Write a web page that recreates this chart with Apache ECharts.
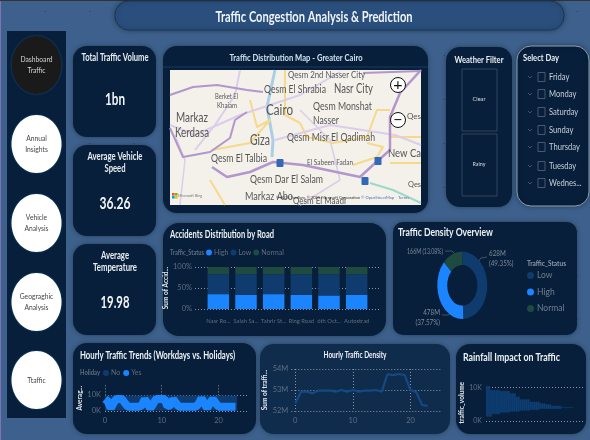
<!DOCTYPE html>
<html>
<head>
<meta charset="utf-8">
<style>
  html, body { margin: 0; padding: 0; background: #3d618c; }
  #main { width: 590px; height: 440px; }
</style>
<script src="https://cdn.jsdelivr.net/npm/echarts@6/dist/echarts.min.js"></script>
</head>
<body>
<div id="main"></div>
<script>
// accidents by road, stacked to 100%
const roads = ['Nasr Ro...', 'Salah Sa...', 'Tahrir St...', 'Ring Road', '6th Oct...', 'Autostrad'];
const accHigh = [35.4, 33.9, 35.4, 33.9, 32.3, 33.9];
const accLow = [47.3, 48.9, 47.3, 48.6, 50.4, 48.6];
const accNormal = [17.3, 17.2, 17.3, 17.5, 17.3, 17.5];

// density donut
const densityNames = ['Low', 'High', 'Normal'];
const densityPct = [49.35, 37.57, 13.08];

// hourly trends, half hour steps
const trendNoHours = [0, 23.3];
const trendNo = [5, 5];
const trendYesHours = [0, 0.5, 1, 1.5, 2, 2.5, 3, 3.5, 4, 4.5, 5, 5.5, 6, 6.5, 7, 7.5, 8, 8.5, 9, 9.5, 10, 10.5, 11, 11.5,
  12, 12.5, 13, 13.5, 14, 14.5, 15, 15.5, 16, 16.5, 17, 17.5, 18, 18.5, 19, 19.5, 20, 20.5, 21, 21.5, 22, 22.5, 23];
const trendYes = [7.5, 6, 1.7, 5, 7.5, 7.5, 7.5, 5, 2.7, 2.7, 2.7, 2.7, 2.7, 3.5, 7.5, 4.5, 1.7, 4.5, 7.5, 7.5, 7.5, 7.5, 3, 3.5,
  7.5, 5, 2.7, 2.7, 2.7, 2.7, 2.7, 2.7, 2.7, 4.5, 8, 5, 1.7, 5, 7.5, 5, 2.7, 2.7, 2.7, 2.7, 2.7, 2.7, 2.7];

// hourly density in millions
const densityHours = [0, 1, 2, 3, 4, 5, 6, 7, 8, 9, 10, 11, 12, 13, 14, 15, 16, 17, 18, 19, 20, 21, 22, 23];
const densityHourly = [52.37, 52.92, 52.92, 52.84, 52.97, 52.97, 52.97, 52.92, 53, 52.92, 53, 52.92,
  52.97, 52.97, 53, 52.92, 53.75, 53.71, 53.76, 53.71, 53, 52.9, 52.29, 52.24];

// rainfall: low and high traffic volume per rainfall bin (K)
const rainBins = ['0', '1', '2', '3', '4', '5', '6', '7', '8', '9', '10', '11', '12', '13', '14', '15', '16', '17', '18', '19', '20', '21',
  '22', '23', '24', '25', '26', '27', '28', '29', '30', '31', '32', '33', '34', '35', '36', '37', '38', '39', '40', '41', '42', '43', '44', '45', '46', '47', '48'];
const rainLow = [1.3, 1.3, 1.3, 2.1, 2.1, 2.1, 2.1, 2.5, 2.5, 2.5, 2.5, 2.5, 2.8, 2.8, 2.8, 2.8, 2.8, 3.1, 3.1, 3.1, 3.1, 3.1,
  3.3, 3.3, 3.3, 3.3, 3.3, 3.6, 3.6, 3.6, 3.6, 3.6, 3.6, 3.6, 3.6, 3.6, 3.6, 3.6, 3.9, 3.9, 3.9, 3.9, 3.9, 3.9];
const rainHigh = [10.5, 10.5, 9.3, 9.3, 9.3, 9.3, 9.3, 9, 9, 9, 9, 9, 8.3, 8.3, 8.3, 7.3, 7.3, 6.5, 6.5, 6.5, 6.5, 6.5,
  5.8, 5.8, 5.8, 5.8, 5.8, 5.3, 5.3, 5.3, 5, 5, 5, 4.6, 4.6, 4.6, 4.6, 4.6, 4.1, 4.1, 4.1, 4.1, 4.1, 4.1];

// filters and navigation
const days = ['Friday', 'Monday', 'Saturday', 'Sunday', 'Thursday', 'Tuesday', 'Wednes...'];
const navItems = [['Dashboard', 'Traffic'], ['Annual', 'Insights'], ['Vehicle', 'Analysis'], ['Geograghic', 'Analysis'], ['Ttaffic']];
const kpiTitles = [['Total Traffic Volume'], ['Average Vehicle', 'Speed'], ['Average', 'Temperature']];
const kpiTitleW = [[67], [55, 21], [28, 44]];
const kpiValues = ['1bn', '36.26', '19.98'];
const kpiValueW = [20, 31, 29];

const FONT = 'Lato,"Open Sans",sans-serif';
const DARK = '#071f3a';
const HIGH = '#1a85ff';
const LOW = '#0f3b6e';
const NORMAL = '#1e4a40';
const GREY = '#5d6e82';
const DOT = { color: '#8a96a5', type: [1, 2], width: 1 };

const decor = [];
const measure = document.createElement('canvas').getContext('2d');

// the reference uses a condensed face, so text is squeezed to the width it has there
function text(str, x, y, size, fill, opts) {
  opts = opts || {};
  const font = (opts.bold ? 'bold ' : '') + size + 'px ' + FONT;
  measure.font = font;
  const sx = opts.w ? opts.w / measure.measureText(str).width : (opts.sx || 0.84);
  decor.push({
    type: 'text', z: -2, x: x, y: y, scaleX: sx,
    style: {
      text: str, fill: fill, font: font,
      align: opts.align || 'left', verticalAlign: 'middle',
      textAlign: opts.align || 'left', textVerticalAlign: 'middle'
    }
  });
}

function card(x, y, w, h, r, fill, stroke) {
  decor.push({
    type: 'rect', z: -8,
    shape: { x: x, y: y, width: w, height: h, r: r },
    style: { fill: fill || DARK, stroke: stroke || 'transparent', lineWidth: 1, shadowBlur: 5, shadowColor: 'rgba(0,0,0,0.35)' }
  });
}

function line(points, color, width, z) {
  decor.push({
    type: 'polyline', z: z || -6,
    shape: { points: points },
    style: { stroke: color, lineWidth: width, fill: 'none', lineJoin: 'round' }
  });
}

// faint background dots of the report canvas
for (let gx = 45; gx < 590; gx += 44.3) {
  for (let gy = 11; gy < 440; gy += 44) {
    decor.push({ type: 'rect', z: -10, shape: { x: gx, y: gy, width: 1, height: 1 }, style: { fill: 'rgba(10,25,50,0.45)' } });
  }
}
decor.push({ type: 'rect', z: -9, shape: { x: 0, y: 0, width: 1, height: 440 }, style: { fill: '#7f72b8' } });
decor.push({ type: 'rect', z: -9, shape: { x: 0, y: 0, width: 590, height: 1 }, style: { fill: '#333333' } });

// title
card(115, 1, 449, 29, 14, '#2a4f7d', '#1b3658');
text('Traffic Congestion Analysis & Prediction', 314, 17, 15, '#eef3f8', { bold: true, align: 'center', w: 197 });

// navigation column
decor.push({ type: 'rect', z: -8, shape: { x: 7, y: 31, width: 59, height: 387 }, style: { fill: DARK } });
const navY = [65, 144, 223, 302, 380];
navItems.forEach(function (lines, i) {
  decor.push({
    type: 'ellipse', z: -5,
    shape: { cx: 36.5, cy: navY[i], rx: 25, ry: 29 },
    style: { fill: i === 0 ? '#1a1a1a' : '#ffffff', shadowBlur: 2, shadowColor: '#1b5a90' }
  });
  lines.forEach(function (s, k) {
    text(s, 36.5, navY[i] + (k - (lines.length - 1) / 2) * 11, 8, i === 0 ? '#d5d5d5' : '#444444', { align: 'center' });
  });
});

// KPI cards
const kpiTop = [46, 145, 244];
kpiTitles.forEach(function (lines, i) {
  card(73, kpiTop[i], 83, 91, 14);
  lines.forEach(function (s, k) {
    text(s, 115, kpiTop[i] + 12 + k * 12, 10.5, '#e8edf2', { bold: true, align: 'center', w: kpiTitleW[i][k] });
  });
  text(kpiValues[i], 115, kpiTop[i] + 56 + (i === 0 ? -2 : 3), 17, '#f2f5f8', { bold: true, align: 'center', w: kpiValueW[i] });
});

// map card, the map itself is only a backdrop
card(163, 46, 265, 167, 14);
text('Traffic Distribution Map - Greater Cairo', 296, 58, 10, '#cfe0f0', { bold: true, align: 'center', w: 133 });
line([[163, 67], [428, 67]], '#1c3a5a', 1);
decor.push({ type: 'rect', z: -7, shape: { x: 170, y: 70, width: 251, height: 135 }, style: { fill: '#f3f1ea' } });
line([[275, 70], [267, 107], [273, 140], [272, 157]], '#a9cfe8', 3);
line([[210, 180], [225, 205]], '#f6d98a', 2);
line([[250, 100], [257, 127], [270, 120], [250, 143], [212, 150]], '#f6d98a', 2);
line([[300, 123], [307, 137], [333, 143], [367, 137], [377, 110], [390, 110]], '#f6d98a', 2);
line([[390, 137], [421, 137]], '#f6d98a', 2);
line([[421, 163], [390, 163]], '#f6d98a', 2);
line([[353, 165], [377, 157], [383, 147], [367, 143]], '#f6d98a', 2);
line([[285, 70], [285, 115], [300, 123]], '#f6d98a', 2);
line([[240, 70], [235, 95], [215, 125], [195, 150]], '#dccdea', 2);
line([[170, 125], [195, 135], [240, 115], [300, 95], [340, 72]], '#dccdea', 2);
line([[275, 140], [330, 125], [395, 135], [421, 145]], '#dccdea', 2);
line([[300, 205], [340, 180], [330, 140], [300, 110]], '#dccdea', 1.5);
line([[180, 205], [185, 160], [175, 135]], '#dccdea', 1.5);
line([[170, 95], [193, 87], [217, 85], [247, 90], [263, 92]], '#b396cc', 2);
line([[170, 128], [183, 157], [210, 152], [230, 138], [235, 120], [247, 112]], '#b396cc', 2);
line([[212, 167], [227, 177], [250, 172], [273, 162], [303, 165], [360, 177], [373, 165], [390, 150], [390, 117], [400, 93], [421, 70]], '#b396cc', 2.5);
line([[363, 73], [421, 71]], '#b396cc', 2);
line([[370, 183], [393, 190], [421, 203]], '#9ed8c8', 2);
[[280, 163], [378, 161], [365, 181]].forEach(function (p) {
  decor.push({ type: 'rect', z: -5, shape: { x: p[0] - 3.5, y: p[1] - 4, width: 7, height: 8, r: 1 }, style: { fill: '#3467b8' } });
});
const mapLabels = [
  ['Qesm 2nd Nasser City', 288, 75, 10, 77], ['Nasr City', 334, 89, 12.5, 39], ['Qesm El Shrabia', 264, 90, 10.5, 62],
  ['Berket El', 215, 97, 7, 23], ['Khaiam', 217, 106, 7, 20], ['Cairo', 266, 110, 14.5, 27], ['Qesm Monshat', 313, 106, 11.5, 59],
  ['Nasser', 313, 120, 11, 26], ['Markaz', 176, 118, 12.5, 32], ['Kerdasa', 175, 133, 12.5, 34], ['Giza', 250, 140, 14.5, 20],
  ['Qesm Misr El Qadimah', 287, 137, 11.5, 88], ['Qes', 407, 116, 8, 14], ['New Ca', 388, 153, 12, 33], ['Qesm El Talbia', 211, 159, 10.5, 56],
  ['El Sabeen Fadan', 307, 162, 8, 46], ['Qesm Dar El Salam', 250, 179, 11, 73], ['Qes', 408, 184, 8, 13],
  ['Markaz Abo', 245, 196, 11, 48], ['Qesm El Maadi', 293, 201, 9, 53]
];
mapLabels.forEach(function (m) { text(m[0], m[1], m[2], m[3], '#565656', { w: m[4] }); });
[[398, 85, '+'], [398, 120, '−']].forEach(function (b) {
  decor.push({ type: 'circle', z: -3, shape: { cx: b[0], cy: b[1], r: 7.5 }, style: { fill: '#ffffff', stroke: '#111111', lineWidth: 1 } });
  text(b[2], b[0], b[1], 16, '#111111', { align: 'center', sx: 1 });
});
[['#f25022', 172, 193], ['#7fba00', 175, 193], ['#00a4ef', 172, 196], ['#ffb900', 175, 196]].forEach(function (s) {
  decor.push({ type: 'rect', z: -3, shape: { x: s[1], y: s[2], width: 2.6, height: 2.6 }, style: { fill: s[0] } });
});
text('Microsoft Bing', 178, 196, 4.5, '#777777');
text('© 2025 TomTom, © 2025 Microsoft Corporation', 276, 198, 4.5, '#333333', { w: 84 });
text('© OpenStreetMap', 361, 198, 4.5, '#4a6fc0', { w: 33 });
text('Terms', 398, 198, 4.5, '#4a6fc0', { w: 11 });

// weather filter
card(446, 47, 66, 160, 14);
text('Weather Filter', 479, 60, 9.5, '#e8edf2', { bold: true, align: 'center', w: 49 });
[[69, 'Clear'], [134, 'Rainy']].forEach(function (b) {
  decor.push({ type: 'rect', z: -5, shape: { x: 462, y: b[0], width: 35, height: 62 }, style: { fill: 'transparent', stroke: '#33465c', lineWidth: 1 } });
  text(b[1], 479, b[0] + 30, 6.5, '#d8dee5', { align: 'center', w: 13 });
});

// day slicer
card(517, 46, 72, 160, 14, DARK, '#8fa0b3');
text('Select Day', 523, 58, 9.5, '#e8edf2', { bold: true, w: 36 });
const dayY = [77, 94, 112, 130, 147, 166, 183];
days.forEach(function (d, i) {
  line([[528, dayY[i] - 1], [530, dayY[i] + 1], [532, dayY[i] - 1]], '#4c5f75', 0.8, -4);
  decor.push({ type: 'rect', z: -4, shape: { x: 538, y: dayY[i] - 4.5, width: 7, height: 9 }, style: { fill: 'transparent', stroke: '#56687c', lineWidth: 0.8 } });
  text(d, 549, dayY[i], 9.5, '#c6ced7', { sx: 0.8 });
});

// chart cards
card(163, 223, 223, 113, 16);
text('Accidents Distribution by Road', 170, 235, 10.5, '#eef2f6', { bold: true, w: 104 });
text('Traffic_Status', 170, 253, 7.5, GREY, { bold: true, w: 34 });
card(393, 222, 184, 113, 10);
text('Traffic Density Overview', 398, 232, 11.5, '#eef2f6', { bold: true, w: 95 });
text('Traffic_Status', 527, 263, 8, '#8b98a8', { bold: true, w: 39 });
card(73, 343, 183, 91, 14);
text('Hourly Traffic Trends (Workdays vs. Holidays)', 80, 356, 10.5, '#eef2f6', { bold: true, w: 155 });
text('Holiday', 80, 373, 7.5, GREY, { bold: true, w: 20 });
card(260, 344, 190, 90, 14, '#0f2c4d');
text('Hourly Traffic Density', 355, 355, 8.5, '#eef2f6', { bold: true, align: 'center', w: 63 });
card(456, 344, 130, 90, 14);
text('Rainfall Impact on Traffic', 463, 357, 11, '#eef2f6', { bold: true, w: 97 });

// donut labels, built from the data
text('166M (' + densityPct[2] + '%)', 443, 252, 7.5, '#7c8a9a', { align: 'right', w: 36 });
text('628M', 489, 254, 7.5, '#7c8a9a');
text('(' + densityPct[0] + '%)', 489, 264, 7.5, '#7c8a9a');
text('478M', 440, 313, 7.5, '#7c8a9a', { align: 'right' });
text('(' + densityPct[1] + '%)', 440, 323, 7.5, '#7c8a9a', { align: 'right' });
line([[445, 251], [452, 251], [455, 254]], '#56687c', 0.7, -4);
line([[487, 257], [481, 258], [478, 262]], '#56687c', 0.7, -4);
line([[442, 315], [448, 315], [452, 312]], '#56687c', 0.7, -4);

function axisName(name, gap) {
  return {
    name: name, nameLocation: 'middle', nameGap: gap, nameRotate: 90,
    nameTextStyle: { color: '#e4e8ec', fontFamily: FONT, fontWeight: 'bold', fontSize: 6.5 }
  };
}
const tickLabel = { color: GREY, fontFamily: FONT, fontSize: 7.5 };

// the donut is stretched in the reference, so each slice is a scaled sector
function donutSlice(i) {
  let before = 0;
  for (let k = 0; k < i; k++) before += densityPct[k];
  return {
    type: 'custom', name: densityNames[i], coordinateSystem: 'none',
    itemStyle: { color: [LOW, HIGH, NORMAL][i] },
    data: [[densityPct[i]]],
    renderItem: function (params, api) {
      const start = -Math.PI / 2 + before / 100 * Math.PI * 2;
      return {
        type: 'sector', x: 462.3, y: 285.3, scaleX: 0.742,
        shape: { cx: 0, cy: 0, r: 33.7, r0: 20.3, startAngle: start, endAngle: start + api.value(0) / 100 * Math.PI * 2, clockwise: true },
        style: { fill: [LOW, HIGH, NORMAL][i] }
      };
    }
  };
}

function stackedBar(name, values, color) {
  return {
    type: 'bar', name: name, data: values, stack: 'acc', xAxisIndex: 1, yAxisIndex: 1, barWidth: 21.5,
    itemStyle: { color: color }, silent: true, z: 5
  };
}

const chart = echarts.init(document.getElementById('main'));
chart.setOption({
  animation: false,
  backgroundColor: '#3d618c',
  graphic: { elements: decor },
  legend: [
    {
      data: ['High', 'Low', 'Normal'], left: 206, top: 249, padding: 0, itemWidth: 6, itemHeight: 6, itemGap: 2, icon: 'circle',
      selectedMode: false, textStyle: { color: GREY, fontFamily: FONT, fontSize: 7, padding: [0, 0, 0, -3] }
    },
    {
      data: ['Low', 'High', 'Normal'], orient: 'vertical', left: 527, top: 271, padding: 0, itemWidth: 7, itemHeight: 7, itemGap: 7.5, icon: 'circle',
      selectedMode: false, textStyle: { color: '#6f7e90', fontFamily: FONT, fontSize: 8.5, padding: [0, 0, 0, -2] }
    },
    {
      data: ['No', 'Yes'], left: 103, top: 369.5, padding: 0, itemWidth: 6, itemHeight: 6, itemGap: 3, icon: 'circle',
      selectedMode: false, textStyle: { color: GREY, fontFamily: FONT, fontSize: 7, padding: [0, 0, 0, -3] }
    }
  ],
  grid: [
    { left: 195, top: 267, width: 184, height: 42 },
    { left: 204.5, top: 267, width: 166, height: 42 },
    { left: 105, top: 385.4, width: 143, height: 25.6 },
    { left: 295.3, top: 369, width: 145.7, height: 42 },
    { left: 486, top: 384.3, width: 97, height: 36.7 }
  ],
  xAxis: [
    { gridIndex: 0, type: 'value', min: 0, max: 1, show: false },
    {
      gridIndex: 1, type: 'category', data: roads,
      axisLine: { show: false }, axisTick: { show: false },
      axisLabel: { color: GREY, fontFamily: FONT, fontSize: 5.8, interval: 0, margin: 9 }
    },
    {
      gridIndex: 2, type: 'value', min: 0, max: 25.2, interval: 10,
      axisLine: { show: false }, axisTick: { show: false },
      axisLabel: { ...tickLabel, showMaxLabel: false, margin: 6 },
      splitLine: { show: true, showMaxLine: false, lineStyle: DOT }
    },
    {
      gridIndex: 3, type: 'value', min: 0, max: 25.3, interval: 10,
      axisLine: { show: false }, axisTick: { show: false },
      axisLabel: { ...tickLabel, showMaxLabel: false, margin: 6 },
      splitLine: { show: true, showMaxLine: false, lineStyle: DOT }
    },
    {
      gridIndex: 4, type: 'category', data: rainBins, show: false
    }
  ],
  yAxis: [
    {
      gridIndex: 0, type: 'value', min: 0, max: 100, interval: 50, ...axisName('Sum of Accid...', 23),
      axisLine: { show: false }, axisTick: { show: false },
      axisLabel: { ...tickLabel, margin: 3, formatter: '{value}%' },
      splitLine: { lineStyle: DOT }
    },
    { gridIndex: 1, type: 'value', min: 0, max: 100, show: false },
    {
      gridIndex: 2, type: 'value', min: 0, max: 16, interval: 10, ...axisName('Averag...', 17),
      axisLine: { show: false }, axisTick: { show: false },
      axisLabel: { ...tickLabel, showMaxLabel: false, margin: 4, formatter: '{value}K' },
      splitLine: { showMaxLine: false, lineStyle: DOT }
    },
    {
      gridIndex: 3, type: 'value', min: 52, max: 54, interval: 1, ...axisName('Sum of traffi...', 26),
      axisLine: { show: false },
      axisTick: { show: true, length: 5, lineStyle: DOT },
      axisLabel: { ...tickLabel, margin: 7, formatter: '{value}M' },
      splitLine: { lineStyle: DOT }
    },
    {
      gridIndex: 4, type: 'value', min: 0, max: 11, interval: 10, ...axisName('traffic_volume', 20),
      axisLine: { show: false }, axisTick: { show: false },
      axisLabel: { ...tickLabel, fontSize: 7, margin: 4, showMaxLabel: false, formatter: '{value}K' },
      splitLine: { showMaxLine: false, lineStyle: DOT }
    }
  ],
  series: [
    stackedBar('High', accHigh, HIGH),
    stackedBar('Low', accLow, LOW),
    stackedBar('Normal', accNormal, NORMAL),
    donutSlice(0), donutSlice(1), donutSlice(2),
    {
      type: 'line', name: 'No', xAxisIndex: 2, yAxisIndex: 2, symbol: 'none', silent: true,
      data: trendNoHours.map(function (h, i) { return [h, trendNo[i]]; }),
      lineStyle: { color: LOW, width: 15, cap: 'butt' }, itemStyle: { color: LOW }
    },
    {
      type: 'line', name: 'Yes', xAxisIndex: 2, yAxisIndex: 2, symbol: 'none', silent: true,
      data: trendYesHours.map(function (h, i) { return [h, trendYes[i]]; }),
      lineStyle: { color: HIGH, width: 8, cap: 'butt', join: 'bevel' }, itemStyle: { color: HIGH }
    },
    {
      type: 'line', name: 'Density', xAxisIndex: 3, yAxisIndex: 3, symbol: 'none', silent: true,
      data: densityHours.map(function (h, i) { return [h, densityHourly[i]]; }),
      lineStyle: { color: '#134a85', width: 2.2 }
    },
    {
      type: 'bar', name: 'rain base', xAxisIndex: 4, yAxisIndex: 4, stack: 'rain', barWidth: '100%', silent: true,
      data: rainLow, itemStyle: { color: 'transparent' }
    },
    {
      type: 'bar', name: 'rain range', xAxisIndex: 4, yAxisIndex: 4, stack: 'rain', barWidth: '100%', silent: true,
      data: rainHigh.map(function (v, i) { return v - rainLow[i]; }),
      itemStyle: { color: '#0f3f75', borderColor: '#0f3f75', borderWidth: 0.6 }, z: 5
    }
  ]
});
</script>
</body>
</html>
